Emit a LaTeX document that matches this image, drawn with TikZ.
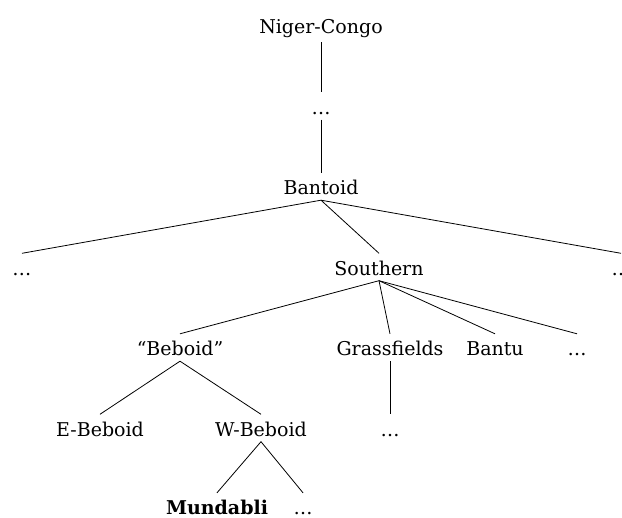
\documentclass[tikz,border=0pt]{standalone}
\usepackage{fontspec}
\setmainfont{DejaVu Serif}
\begin{document}
\begin{tikzpicture}[x=1pt,y=-1pt,
  lbl/.style={anchor=base,inner sep=0pt,text height=22pt,text depth=5pt,font=\fontsize{19}{22}\selectfont},
  leaf/.style={lbl,text depth=0pt},
  br/.style={line width=0.8pt,black}]
\useasboundingbox (0,0) rectangle (622,518);
\node[lbl,text depth=8pt] (nc) at (321,34) {Niger-Congo};
\node[lbl] (d1) at (321,114.5) {…};
\node[lbl] (bantoid) at (321,195) {Bantoid};
\node[leaf] (dl) at (22,275.5) {…};
\node[lbl] (southern) at (379,275.5) {Southern};
\node[leaf] (dr) at (621,275.5) {…};
\node[lbl] (beboid) at (180,356) {“Beboid”};
\node[lbl] (grass) at (390,356) {Grassfields};
\node[leaf] (bantu) at (495,356) {Bantu};
\node[leaf] (d4) at (577,356) {…};
\node[leaf] (ebeboid) at (100,436.5) {E-Beboid};
\node[lbl] (wbeboid) at (261,436.5) {W-Beboid};
\node[leaf] (d5) at (390,436.5) {…};
\node[leaf] (mundabli) at (217,515) {\textbf{Mundabli}};
\node[leaf] (d6) at (303,515) {…};
\draw[br] (nc.south) -- (d1.north);
\draw[br] (d1.south) -- (bantoid.north);
\draw[br] (bantoid.south) -- (dl.north);
\draw[br] (bantoid.south) -- (southern.north);
\draw[br] (bantoid.south) -- (dr.north);
\draw[br] (southern.south) -- (beboid.north);
\draw[br] (southern.south) -- (grass.north);
\draw[br] (southern.south) -- (bantu.north);
\draw[br] (southern.south) -- (d4.north);
\draw[br] (beboid.south) -- (ebeboid.north);
\draw[br] (beboid.south) -- (wbeboid.north);
\draw[br] (grass.south) -- (d5.north);
\draw[br] (wbeboid.south) -- (mundabli.north);
\draw[br] (wbeboid.south) -- (d6.north);
\end{tikzpicture}
\end{document}
